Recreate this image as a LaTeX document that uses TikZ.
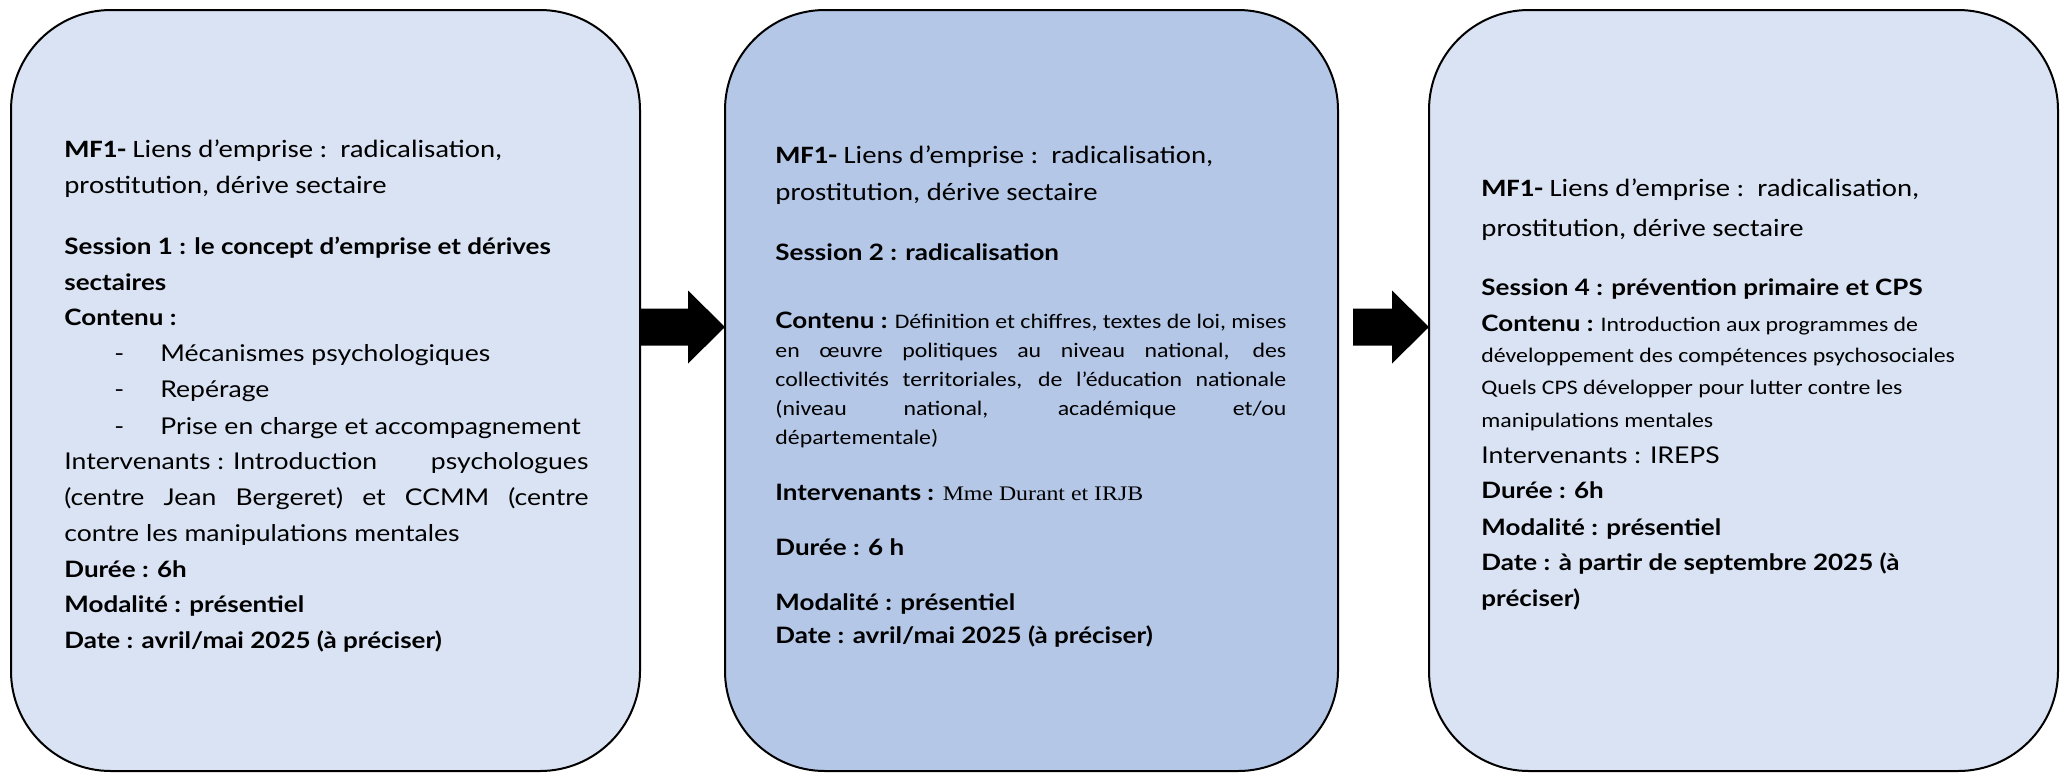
\documentclass[tikz,border=0pt]{standalone}
\usepackage{fontspec}
\setmainfont{Carlito}[FakeStretch=1.15]
\newfontfamily\mar{Lato}[FakeStretch=1.15]
\newfontfamily\tms{Liberation Serif}[FakeStretch=1.15]
\usetikzlibrary{calc}
\definecolor{paleblue}{HTML}{DAE3F3}
\definecolor{midblue}{HTML}{B4C7E7}
\newcommand\mb[1]{{\mar\bfseries\fontsize{11.3}{13}\selectfont #1}}
\newcommand\mr[1]{{\mar\fontsize{11.55}{13}\selectfont #1}}
\newcommand\blockarrow[2]{\fill ($(#1)+(0,-18.5)$) -- ($(#2)+(-37,-18.5)$) -- ($(#2)+(-37,-36.5)$) -- (#2) -- ($(#2)+(-37,36.5)$) -- ($(#2)+(-37,18.5)$) -- ($(#1)+(0,18.5)$) -- cycle;}
\begin{document}
\begin{tikzpicture}[x=0.5pt,y=-0.5pt,
  box/.style={draw=black, line width=1pt, rounded corners=50pt, inner sep=0pt, anchor=north west, minimum height=380.5pt},
  txt/.style={anchor=base west, inner sep=0pt, font=\fontsize{12.5}{15}\selectfont},
  small/.style={anchor=base west, inner sep=0pt, font=\fontsize{10.35}{12}\selectfont}]
\useasboundingbox (0,0) rectangle (2067,773);
% boxes
\node[box, fill=paleblue, minimum width=314.5pt] (b1) at (10,9) {};
\node[box, fill=midblue, minimum width=306.5pt] (b2) at (724,9) {};
\node[box, fill=paleblue, minimum width=314.5pt] (b3) at (1428,9) {};
% arrows
\coordinate (s1) at ($(b1.north east)+(0,318)$);
\coordinate (t1) at ($(b2.north west)+(1,318)$);
\coordinate (s2) at ($(b2.north east)+(14,318)$);
\coordinate (t2) at ($(b3.north west)+(1,318)$);
\blockarrow{s1}{t1}
\blockarrow{s2}{t2}
% box 1 text
\node[txt] (a1) at (64,157) {\textbf{MF1-} Liens d’emprise :~~radicalisation,};
\node[txt] (a2) at (64,193) {prostitution, dérive sectaire};
\node[txt] (a3) at (64,254) {\mb{Session 1 : le concept d’emprise et dérives}};
\node[txt] (a4) at (64,290) {\mb{sectaires}};
\node[txt] (a5) at (64,325) {\mb{Contenu :}};
\node[txt] (a6d) at (114,361) {\mr{-}};
\node[txt] (a6) at (160,361) {\mr{Mécanismes psychologiques}};
\node[txt] (a7d) at (114,397) {\mr{-}};
\node[txt] (a7) at (160,397) {\mr{Repérage}};
\node[txt] (a8d) at (114,434) {\mr{-}};
\node[txt] (a8) at (160,434) {\mr{Prise en charge et accompagnement}};
\node[txt] (a9) at (64,469) {\mr{\makebox[262pt][l]{Intervenants : Introduction\hfill psychologues}}};
\node[txt] (a10) at (64,505) {\mr{\makebox[262pt][s]{(centre Jean Bergeret) et CCMM (centre}}};
\node[txt] (a11) at (64,541) {\mr{contre les manipulations mentales}};
\node[txt] (a12) at (64,577) {\mb{Durée : 6h}};
\node[txt] (a13) at (64,612) {\mb{Modalité : présentiel}};
\node[txt] (a14) at (64,648) {\mb{Date : avril/mai 2025 (à préciser)}};
% box 2 text
\node[txt] (c1) at (775,163) {\textbf{MF1-} Liens d’emprise :~~radicalisation,};
\node[txt] (c2) at (775,200) {prostitution, dérive sectaire};
\node[txt] (c3) at (775,260) {\mb{Session 2 : radicalisation}};
\node[small] (c4) at (775,328) {\makebox[255.5pt][s]{\mb{Contenu :} Définition et chiffres, textes de loi, mises}};
\node[small] (c5) at (775,357) {\makebox[255.5pt][s]{en œuvre politiques au niveau national, des}};
\node[small] (c6) at (775,386) {\makebox[255.5pt][s]{collectivités territoriales, de l’éducation nationale}};
\node[small] (c7) at (775,415) {\makebox[255.5pt][s]{(niveau national, académique et/ou}};
\node[small] (c8) at (775,444) {départementale)};
\node[txt] (c9) at (775,500) {\mb{Intervenants :} {\tms\fontsize{10.35}{12}\selectfont Mme Durant et IRJB}};
\node[txt] (c10) at (775,555) {\mb{Durée : 6 h}};
\node[txt] (c11) at (775,610) {\mb{Modalité : présentiel}};
\node[txt] (c12) at (775,643) {\mb{Date : avril/mai 2025 (à préciser)}};
% box 3 text
\node[txt] (e1) at (1481,196) {\textbf{MF1-} Liens d’emprise :~~radicalisation,};
\node[txt] (e2) at (1481,236) {prostitution, dérive sectaire};
\node[txt] (e3) at (1481,295) {\mb{Session 4 : prévention primaire et CPS}};
\node[small] (e4) at (1481,331) {\mb{Contenu :} Introduction aux programmes de};
\node[small] (e5) at (1481,362) {développement des compétences psychosociales};
\node[small] (e6) at (1481,394) {Quels CPS développer pour lutter contre les};
\node[small] (e7) at (1481,427) {manipulations mentales};
\node[txt] (e8) at (1481,463) {\mr{Intervenants : IREPS}};
\node[txt] (e9) at (1481,498) {\mb{Durée : 6h}};
\node[txt] (e10) at (1481,535) {\mb{Modalité : présentiel}};
\node[txt] (e11) at (1481,570) {\mb{Date : à partir de septembre 2025 (à}};
\node[txt] (e12) at (1481,606) {\mb{préciser)}};
\end{tikzpicture}
\end{document}
